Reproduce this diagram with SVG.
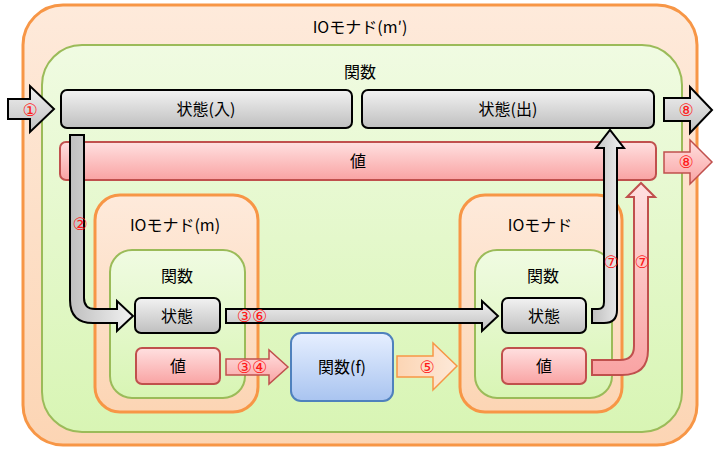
<svg xmlns="http://www.w3.org/2000/svg" width="719" height="455" viewBox="0 0 719 455">
<defs>
<linearGradient id="gOr" x1="0" y1="0" x2="0" y2="1"><stop offset="0" stop-color="#feeadb"/><stop offset="1" stop-color="#fcd5b4"/></linearGradient>
<linearGradient id="gGr" x1="0" y1="0" x2="0" y2="1"><stop offset="0" stop-color="#f0fbe2"/><stop offset="1" stop-color="#d8f5b4"/></linearGradient>
<linearGradient id="gGray" x1="0" y1="0" x2="0" y2="1"><stop offset="0" stop-color="#f2f2f2"/><stop offset="1" stop-color="#bfbfbf"/></linearGradient>
<linearGradient id="gGrayH" x1="0" y1="0" x2="1" y2="0"><stop offset="0" stop-color="#bfbfbf"/><stop offset="1" stop-color="#f2f2f2"/></linearGradient>
<linearGradient id="gPink" x1="0" y1="0" x2="0" y2="1"><stop offset="0" stop-color="#ffe0e0"/><stop offset="1" stop-color="#f9a3a3"/></linearGradient>
<linearGradient id="gBlue" x1="0" y1="0" x2="0" y2="1"><stop offset="0" stop-color="#e6efff"/><stop offset="1" stop-color="#a9c4f0"/></linearGradient>
<linearGradient id="gOrA" x1="0" y1="0" x2="1" y2="0"><stop offset="0" stop-color="#fcd5b4"/><stop offset="1" stop-color="#fde9d9"/></linearGradient>
</defs>
<style>
.mon{fill:url(#gOr);stroke:#f79646;stroke-width:3}
.fn{fill:url(#gGr);stroke:#9bbb59;stroke-width:2}
.st{fill:url(#gGray);stroke:#000;stroke-width:2}
.val{fill:url(#gPink);stroke:#c0504d;stroke-width:2}
.t{font-family:"Noto Sans CJK JP","Liberation Sans",sans-serif;font-size:16px;text-anchor:middle;fill:#000}
.n{font-family:"DejaVu Sans","Noto Sans CJK JP",sans-serif;font-size:17px;text-anchor:middle;fill:#ff1a1a}
.ag{fill:url(#gGray);stroke:#000;stroke-width:2}
.ap{fill:url(#gPink);stroke:#c0504d;stroke-width:1.5}
</style>
<g id="io-outer"><rect class="mon" x="23" y="5" width="674" height="440" rx="40"/><text class="t" x="360" y="33">IOモナド(m′)</text></g>
<g id="fn-outer"><rect class="fn" x="42" y="45" width="640" height="387" rx="40"/><text class="t" x="360" y="78">関数</text></g>
<g id="state-in"><rect class="st" x="61" y="90" width="291" height="38" rx="6"/><text class="t" x="206" y="115">状態(入)</text></g>
<g id="state-out"><rect class="st" x="362" y="90" width="292" height="38" rx="6"/><text class="t" x="508" y="115">状態(出)</text></g>
<g id="value-outer"><rect class="val" x="60" y="142" width="596" height="38" rx="6"/><text class="t" x="358" y="167">値</text></g>
<g id="io-m"><rect class="mon" x="95" y="195" width="163" height="217" rx="25"/><text class="t" x="175" y="231">IOモナド(m)</text></g>
<g id="fn-m"><rect class="fn" x="110" y="250" width="135" height="148" rx="22"/><text class="t" x="177" y="282">関数</text>
<rect class="st" x="135" y="298" width="85" height="35" rx="6"/><text class="t" x="177" y="322">状態</text>
<rect class="val" x="136" y="348" width="84" height="36" rx="6"/><text class="t" x="178" y="372">値</text></g>
<g id="io-r"><rect class="mon" x="460" y="195" width="162" height="217" rx="25"/><text class="t" x="540" y="231">IOモナド</text></g>
<g id="fn-r"><rect class="fn" x="475" y="250" width="137" height="148" rx="22"/><text class="t" x="543" y="282">関数</text>
<rect class="st" x="502" y="298" width="84" height="35" rx="6"/><text class="t" x="544" y="322">状態</text>
<rect class="val" x="502" y="348" width="84" height="36" rx="6"/><text class="t" x="544" y="372">値</text></g>
<g id="func-f"><rect x="291" y="333" width="102" height="68" rx="10" fill="url(#gBlue)" stroke="#4f81bd" stroke-width="2"/><text class="t" x="342" y="373">関数(f)</text></g>
<g id="connectors">
<path class="ag" d="M8,99 L30,99 L30,86 L54,109 L30,132 L30,119 L8,119 Z"/>
<path class="ag" d="M664,98 L690,98 L690,87 L712,110 L690,133 L690,121 L664,121 Z"/>
<path class="ap" d="M664,152 L690,152 L690,140 L712,162 L690,184 L690,173 L664,173 Z"/>
<path class="ag" style="fill:url(#gGrayH)" d="M70,135 L84,135 L84,298 Q84,309 95,309 L117,309 L117,301 L133,316 L117,331 L117,323 L93,323 Q70,323 70,300 Z"/>
<path class="ag" d="M226,309 L482,309 L482,301 L498,316 L482,331 L482,323 L226,323 Z"/>
<path class="ap" d="M226,359 L269,359 L269,350 L288,367 L269,384 L269,375 L226,375 Z"/>
<path d="M397,356 L433,356 L433,343 L457,366 L433,390 L433,377 L397,377 Z" fill="url(#gOrA)" stroke="#f79646" stroke-width="1.5"/>
<path class="ag" style="fill:url(#gGrayH)" d="M592,309 L598,309 Q604,309 604,302 L604,148 L596,148 L610,130 L624,148 L617,148 L617,310 Q617,323 604,323 L592,323 Z"/>
<path class="ap" style="stroke-width:2" d="M592,360 L620,360 Q634,360 634,346 L634,197 L627,197 L641,183 L655,197 L648,197 L648,350 Q648,375 622,375 L592,375 Z"/>
<text class="n" x="30" y="116">①</text>
<text class="n" x="80" y="230">②</text>
<text class="n" x="252" y="322">③⑥</text>
<text class="n" x="252" y="373">③④</text>
<text class="n" x="427" y="373">⑤</text>
<text class="n" x="611" y="268">⑦</text>
<text class="n" x="642" y="268">⑦</text>
<text class="n" x="686" y="116">⑧</text>
<text class="n" x="686" y="168">⑧</text>
</g>
</svg>
